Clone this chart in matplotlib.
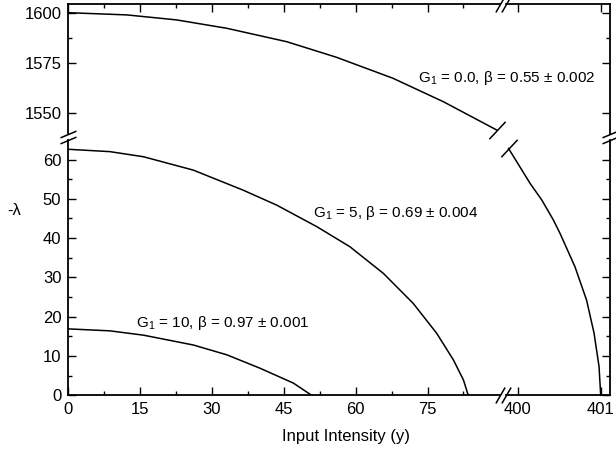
import matplotlib.pyplot as plt
from matplotlib.ticker import FixedLocator

plt.rcParams['font.family'] = ['Liberation Sans', 'DejaVu Sans']
plt.rcParams['mathtext.fontset'] = 'custom'
plt.rcParams['mathtext.rm'] = 'Liberation Sans'
plt.rcParams['mathtext.it'] = 'Liberation Sans:italic'

# G1 = 0.0 : upper part (small y, large -lambda) and lower part (y near 400)
g0_top_x = [0, 12.2, 22.6, 33.1, 45.6, 56.0, 67.8, 78.3, 89.4]
g0_top_l = [1600, 1598.9, 1596.4, 1592.2, 1585.5, 1577.7, 1567.2, 1555.5, 1541.4]
g0_bot_x = [399.89, 400.15, 400.29, 400.43, 400.51, 400.69, 400.83, 400.92, 400.98, 401.0]
g0_bot_l = [62.8, 53.9, 49.7, 44.6, 41.2, 32.7, 24.2, 15.8, 7.3, 0]

# G1 = 5
g5_x = [0, 8.7, 15.7, 26.1, 36.5, 43.5, 51.9, 58.8, 65.8, 72.0, 76.9, 80.4, 82.5, 83.5]
g5_l = [62.6, 62.0, 60.7, 57.3, 52.2, 48.4, 42.9, 37.8, 31.0, 23.4, 15.8, 9.0, 3.9, 0]

# G1 = 10
g10_x = [0, 8.7, 15.7, 26.1, 33.1, 40.0, 47.0, 50.8]
g10_l = [16.9, 16.4, 15.3, 12.8, 10.3, 6.9, 3.1, 0]

labels = ["G$_1$ = 0.0, \u03b2 = 0.55 \u00b1 0.002",
          "G$_1$ = 5, \u03b2 = 0.69 \u00b1 0.004",
          "G$_1$ = 10, \u03b2 = 0.97 \u00b1 0.001"]

xt_left = [0, 15, 30, 45, 60, 75]
xt_left_minor = [7.5, 22.5, 37.5, 52.5, 67.5, 82.5]
xt_right = [400, 401]
yt_low = [0, 10, 20, 30, 40, 50, 60]
yt_low_minor = [5, 15, 25, 35, 45, 55]
yt_high = [1550, 1575, 1600]
yt_high_minor = [1587.5]

W, H = 616, 453
fig = plt.figure(figsize=(W / 100, H / 100), dpi=100)


def rect(x0, x1, ytop, ybot):
    return [x0 / W, 1 - ybot / H, (x1 - x0) / W, (ybot - ytop) / H]


ax_ul = fig.add_axes(rect(68.3, 500, 4, 133.5))
ax_ur = fig.add_axes(rect(506, 610, 4, 133.5))
ax_ll = fig.add_axes(rect(68.3, 500, 139.5, 395.3))
ax_lr = fig.add_axes(rect(506, 610, 139.5, 395.3))

for ax in (ax_ul, ax_ll):
    ax.set_xlim(0, 90.13)
    ax.xaxis.set_major_locator(FixedLocator(xt_left))
    ax.xaxis.set_minor_locator(FixedLocator(xt_left_minor))
for ax in (ax_ur, ax_lr):
    ax.set_xlim(399.859, 401.112)
    ax.xaxis.set_major_locator(FixedLocator(xt_right))
    ax.xaxis.set_minor_locator(FixedLocator([]))
for ax in (ax_ul, ax_ur):
    ax.set_ylim(1539.6, 1604.35)
    ax.yaxis.set_major_locator(FixedLocator(yt_high))
    ax.yaxis.set_minor_locator(FixedLocator(yt_high_minor))
for ax in (ax_ll, ax_lr):
    ax.set_ylim(0, 65.09)
    ax.yaxis.set_major_locator(FixedLocator(yt_low))
    ax.yaxis.set_minor_locator(FixedLocator(yt_low_minor))

sides = {ax_ul: ("top", "left"), ax_ur: ("top", "right"),
         ax_ll: ("bottom", "left"), ax_lr: ("bottom", "right")}
for ax, keep in sides.items():
    ax.patch.set_visible(False)
    for s in ("top", "bottom", "left", "right"):
        ax.spines[s].set_visible(s in keep)
        ax.spines[s].set_linewidth(1.3)
    on = {s: (s in keep) for s in ("top", "bottom", "left", "right")}
    ax.tick_params(which="both", direction="in", width=1.0, labelsize=12,
                   pad=5, **on,
                   labelbottom=("bottom" in keep), labelleft=("left" in keep),
                   labeltop=False, labelright=False)
    ax.tick_params(which="major", length=5.5)
    ax.tick_params(which="minor", length=3)
ax_lr.tick_params(labelleft=False)
ax_ur.tick_params(labelleft=False, labelbottom=False)

lw = 1.1
ax_ul.plot(g0_top_x, g0_top_l, color="black", lw=lw, clip_on=False)
ax_lr.plot(g0_bot_x, g0_bot_l, color="black", lw=lw, clip_on=False)
ax_ll.plot(g5_x, g5_l, color="black", lw=lw)
ax_ll.plot(g10_x, g10_l, color="black", lw=lw)

# break marks on the G1 = 0 curve
cut = dict(marker=[(-1, -1.07), (1, 1.07)], markersize=12.5, linestyle="none",
           color="black", mew=1.1, clip_on=False)
ax_ul.plot(g0_top_x[-1], g0_top_l[-1], **cut)
ax_lr.plot(g0_bot_x[0], g0_bot_l[0], **cut)

# break marks on the axes
xcut = dict(marker=[(-0.577, -1), (0.577, 1)], markersize=11.5, linestyle="none",
            color="black", mew=1.1, clip_on=False)
ycut = dict(marker=[(-1, -0.42), (1, 0.42)], markersize=11.5, linestyle="none",
            color="black", mew=1.1, clip_on=False)
ax_ll.plot([1], [0], transform=ax_ll.transAxes, **xcut)
ax_lr.plot([0], [0], transform=ax_lr.transAxes, **xcut)
ax_ul.plot([1], [1], transform=ax_ul.transAxes, **xcut)
ax_ur.plot([0], [1], transform=ax_ur.transAxes, **xcut)
ax_ul.plot([0], [0], transform=ax_ul.transAxes, **ycut)
ax_ll.plot([0], [1], transform=ax_ll.transAxes, **ycut)
ax_ur.plot([1], [0], transform=ax_ur.transAxes, **ycut)
ax_lr.plot([1], [1], transform=ax_lr.transAxes, **ycut)

ax_ul.text(73.1, 1567.4, labels[0], fontsize=11, va="center", clip_on=False, zorder=10)
ax_ll.text(51.1, 46.5, labels[1], fontsize=11, va="center")
ax_ll.text(14.1, 18.3, labels[2], fontsize=11, va="center")

fig.text(346 / W, 1 - 436 / H, "Input Intensity (y)", fontsize=12, ha="center", va="center")
fig.text(14 / W, 1 - 211 / H, "-\u03bb", fontsize=12, ha="center", va="center")

fig.savefig("out.png", dpi=100)
